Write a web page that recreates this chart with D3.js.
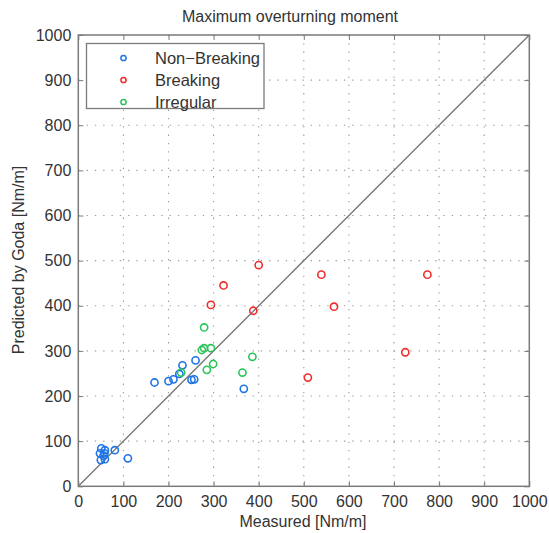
<!DOCTYPE html>
<html>
<head>
<meta charset="utf-8">
<script src="https://cdn.jsdelivr.net/npm/d3@7"></script>
<style>
  html, body { margin: 0; padding: 0; background: #fff; }
  svg { display: block; font-family: "Liberation Sans", Arial, sans-serif; }
</style>
</head>
<body>
<svg id="chart" width="549" height="533"></svg>
<script>
// Measured vs. predicted maximum overturning moment [Nm/m]
const nonBreaking = [
  [51, 84], [59, 80], [81, 80], [48, 73], [58, 73], [56, 68], [50, 58], [59, 60], [110, 62],
  [169, 230], [200, 233], [211, 237], [224, 249], [231, 268], [251, 236], [257, 237],
  [260, 279], [367, 216]
];
const breaking = [
  [294, 402], [322, 445], [388, 389], [400, 490], [509, 241], [539, 469],
  [567, 398], [725, 297], [774, 469]
];
const irregular = [
  [228, 252], [274, 302], [279, 306], [279, 352], [294, 306], [285, 258],
  [299, 271], [364, 252], [386, 287]
];
const seriesNames = ["Non\u2212Breaking", "Breaking", "Irregular"];
const seriesColors = ["#1f74e6", "#f02c2c", "#2cc45a"];
const tickValues = d3.range(0, 1001, 100);

const svg = d3.select("#chart");
const plotLeft = 78.3, plotRight = 529.3, plotTop = 35, plotBottom = 486.3;
const fontFamily = '"Liberation Sans", Arial, sans-serif';

const x = d3.scaleLinear().domain([0, 1000]).range([plotLeft, plotRight]);
const y = d3.scaleLinear().domain([0, 1000]).range([plotBottom, plotTop]);

const axisColor = "#7a7a7a";
const textColor = "#333";

// dotted grid
const grid = svg.append("g");
tickValues.slice(1, -1).forEach(v => {
  grid.append("line").attr("x1", x(v)).attr("x2", x(v)).attr("y1", plotTop).attr("y2", plotBottom);
  grid.append("line").attr("y1", y(v)).attr("y2", y(v)).attr("x1", plotLeft).attr("x2", plotRight);
});
grid.selectAll("line")
  .attr("stroke", "#9a9a9a").attr("stroke-width", 1.1)
  .attr("stroke-dasharray", "1.3,7");

// 1:1 line
svg.append("line")
  .attr("x1", x(0)).attr("y1", y(0)).attr("x2", x(1000)).attr("y2", y(1000))
  .attr("stroke", "#777").attr("stroke-width", 1.4);

// axes (ticks pointing inward on all four sides)
const tickLen = 5;
const fmt = d3.format("d");
const xb = svg.append("g").attr("transform", `translate(0,${plotBottom})`)
  .call(d3.axisBottom(x).tickValues(tickValues).tickFormat(fmt).tickSizeInner(-tickLen).tickSizeOuter(0).tickPadding(9));
const xt = svg.append("g").attr("transform", `translate(0,${plotTop})`)
  .call(d3.axisTop(x).tickValues(tickValues).tickSizeInner(-tickLen).tickSizeOuter(0).tickFormat(""));
const yl = svg.append("g").attr("transform", `translate(${plotLeft},0)`)
  .call(d3.axisLeft(y).tickValues(tickValues).tickFormat(fmt).tickSizeInner(-tickLen).tickSizeOuter(0).tickPadding(7));
const yr = svg.append("g").attr("transform", `translate(${plotRight},0)`)
  .call(d3.axisRight(y).tickValues(tickValues).tickSizeInner(-tickLen).tickSizeOuter(0).tickFormat(""));
[xb, xt, yl, yr].forEach(g => {
  g.attr("font-family", fontFamily).attr("font-size", 16);
  g.select(".domain").remove();
  g.selectAll(".tick line").attr("stroke", axisColor).attr("stroke-width", 1);
  g.selectAll(".tick text").attr("fill", textColor);
});

// plot box
svg.append("rect")
  .attr("x", plotLeft).attr("y", plotTop).attr("width", plotRight - plotLeft).attr("height", plotBottom - plotTop)
  .attr("fill", "none").attr("stroke", axisColor).attr("stroke-width", 1.5);

// data points
const allSeries = [nonBreaking, breaking, irregular];
allSeries.forEach((data, i) => {
  svg.append("g").selectAll("circle").data(data).join("circle")
    .attr("cx", d => x(d[0])).attr("cy", d => y(d[1])).attr("r", 3.6)
    .attr("fill", "none").attr("stroke", seriesColors[i]).attr("stroke-width", 1.6);
});

// legend
const legend = svg.append("g");
legend.append("rect")
  .attr("x", 86.5).attr("y", 43.5).attr("width", 177.5).attr("height", 65)
  .attr("fill", "#fff").attr("stroke", axisColor).attr("stroke-width", 1.3);
seriesNames.forEach((name, i) => {
  const cy = 58 + i * 22;
  legend.append("circle").attr("cx", 123.5).attr("cy", cy).attr("r", 2.6)
    .attr("fill", "none").attr("stroke", seriesColors[i]).attr("stroke-width", 1.5);
  legend.append("text").attr("x", 155).attr("y", cy).attr("dy", "0.36em")
    .attr("fill", textColor).style("font-size", "16.5px").text(name);
});

// titles
svg.append("text").attr("x", 290).attr("y", 16).attr("dy", "0.36em")
  .attr("text-anchor", "middle").attr("fill", textColor).style("font-size", "16px")
  .text("Maximum overturning moment");
svg.append("text").attr("x", 303).attr("y", 521).attr("dy", "0.36em")
  .attr("text-anchor", "middle").attr("fill", textColor).style("font-size", "16px")
  .text("Measured [Nm/m]");
svg.append("text").attr("transform", "translate(18,260) rotate(-90)").attr("dy", "0.36em")
  .attr("text-anchor", "middle").attr("fill", textColor).style("font-size", "16px")
  .text("Predicted by Goda [Nm/m]");
</script>
</body>
</html>
